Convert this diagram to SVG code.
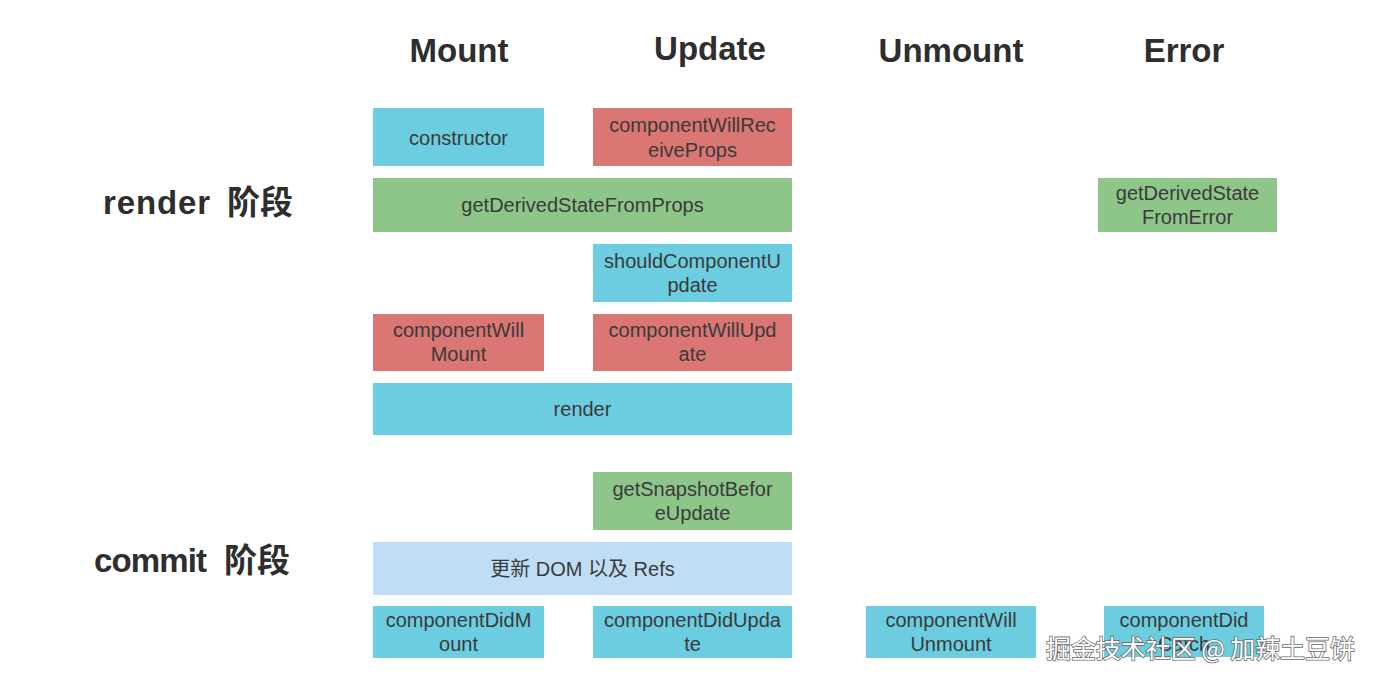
<svg xmlns="http://www.w3.org/2000/svg" width="1376" height="683" viewBox="0 0 1376 683">
<style>
.b{fill:#6ccde0}
.r{fill:#da7673}
.g{fill:#8ec68a}
.l{fill:#c0ddf6}
.t{font-family:"Liberation Sans","Noto Sans CJK SC",sans-serif;font-size:20px;fill:#3a3a3a;text-anchor:middle}
.h{font-family:"Liberation Sans","Noto Sans CJK SC",sans-serif;font-size:33px;font-weight:bold;fill:#2e2e2e;text-anchor:middle}
.p{font-family:"Liberation Sans","Noto Sans CJK SC",sans-serif;font-size:33px;font-weight:bold;fill:#2e2e2e}
.w{font-family:"Noto Sans CJK SC",sans-serif;font-size:25px;fill:#fff;stroke:#6a6a6a;stroke-width:1.6;paint-order:stroke}
</style>
<rect width="1376" height="683" fill="#fff"/>
<g id="headings">
<text class="h" x="459" y="62">Mount</text>
<text class="h" x="710" y="60">Update</text>
<text class="h" x="951" y="62">Unmount</text>
<text class="h" x="1184" y="62">Error</text>
<text class="p" x="103" y="214"><tspan textLength="107" lengthAdjust="spacing">render</tspan><tspan x="227">阶段</tspan></text>
<text class="p" x="94" y="572"><tspan textLength="113" lengthAdjust="spacing">commit</tspan><tspan x="224">阶段</tspan></text>
</g>
<g id="connectors"></g>
<g id="constructor"><rect class="b" x="373" y="108" width="171" height="58"/><text class="t" x="458.5" y="145">constructor</text></g>
<g id="componentWillReceiveProps"><rect class="r" x="593" y="108" width="199" height="58"/><text class="t" x="692.5" y="132">componentWillRec</text><text class="t" x="692.5" y="157">eiveProps</text></g>
<g id="getDerivedStateFromProps"><rect class="g" x="373" y="178" width="419" height="54"/><text class="t" x="582.5" y="212">getDerivedStateFromProps</text></g>
<g id="getDerivedStateFromError"><rect class="g" x="1098" y="178" width="179" height="54"/><text class="t" x="1187.5" y="200">getDerivedState</text><text class="t" x="1187.5" y="224">FromError</text></g>
<g id="shouldComponentUpdate"><rect class="b" x="593" y="244" width="199" height="58"/><text class="t" x="692.5" y="268">shouldComponentU</text><text class="t" x="692.5" y="292">pdate</text></g>
<g id="componentWillMount"><rect class="r" x="373" y="314" width="171" height="57"/><text class="t" x="458.5" y="337">componentWill</text><text class="t" x="458.5" y="361">Mount</text></g>
<g id="componentWillUpdate"><rect class="r" x="593" y="314" width="199" height="57"/><text class="t" x="692.5" y="337">componentWillUpd</text><text class="t" x="692.5" y="361">ate</text></g>
<g id="render"><rect class="b" x="373" y="383" width="419" height="52"/><text class="t" x="582.5" y="416">render</text></g>
<g id="getSnapshotBeforeUpdate"><rect class="g" x="593" y="472" width="199" height="58"/><text class="t" x="692.5" y="496">getSnapshotBefor</text><text class="t" x="692.5" y="520">eUpdate</text></g>
<g id="updateDom"><rect class="l" x="373" y="542" width="419" height="53"/><text class="t" x="582.5" y="576">更新 DOM 以及 Refs</text></g>
<g id="componentDidMount"><rect class="b" x="373" y="606" width="171" height="52"/><text class="t" x="458.5" y="627">componentDidM</text><text class="t" x="458.5" y="651">ount</text></g>
<g id="componentDidUpdate"><rect class="b" x="593" y="606" width="199" height="52"/><text class="t" x="692.5" y="627">componentDidUpda</text><text class="t" x="692.5" y="651">te</text></g>
<g id="componentWillUnmount"><rect class="b" x="866" y="606" width="170" height="52"/><text class="t" x="951" y="627">componentWill</text><text class="t" x="951" y="651">Unmount</text></g>
<g id="componentDidCatch"><rect class="b" x="1104" y="606" width="160" height="51"/><text class="t" x="1184" y="627">componentDid</text><text class="t" x="1184" y="651">Catch</text></g>
<g id="watermark"><text class="w" x="1046" y="658" textLength="309" lengthAdjust="spacing">掘金技术社区 @ 加辣土豆饼</text></g>
</svg>
